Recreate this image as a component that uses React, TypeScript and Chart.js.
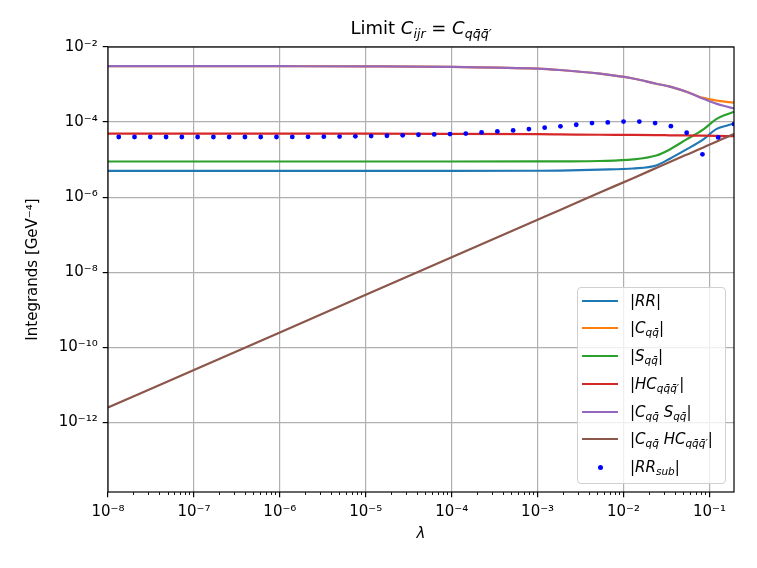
import React, { useEffect, useRef } from 'react';
import { Chart, registerables } from 'chart.js';

Chart.register(...registerables);

// lambda values of the smooth curves
const LINE_LAMBDA = [1e-8, 1e-7, 1e-6, 1e-5, 1e-4, 1e-3, 1.8e-3, 5.3e-3, 1.29e-2, 2.4e-2, 3.46e-2, 5.4e-2, 8.5e-2, 0.12, 0.158, 0.193];

const RR = [5.0e-6, 5.0e-6, 5.0e-6, 5.0e-6, 5.0e-6, 5.05e-6, 5.1e-6, 5.4e-6, 5.8e-6, 7.0e-6, 1.06e-5, 1.87e-5, 3.46e-5, 6.5e-5, 8.0e-5, 9.1e-5];
const C_QQ = [3.1e-3, 3.1e-3, 3.08e-3, 3.05e-3, 2.95e-3, 2.65e-3, 2.44e-3, 1.95e-3, 1.45e-3, 1.05e-3, 8.8e-4, 6.4e-4, 4.4e-4, 3.75e-4, 3.45e-4, 3.3e-4];
const S_QQ = [8.9e-6, 8.9e-6, 8.9e-6, 8.9e-6, 8.9e-6, 8.95e-6, 9.0e-6, 9.2e-6, 1.01e-5, 1.29e-5, 1.87e-5, 3.46e-5, 6.4e-5, 1.2e-4, 1.6e-4, 1.87e-4];
const HC_QQQ = [4.9e-5, 4.9e-5, 4.9e-5, 4.9e-5, 4.85e-5, 4.75e-5, 4.7e-5, 4.6e-5, 4.55e-5, 4.5e-5, 4.45e-5, 4.4e-5, 4.35e-5, 4.3e-5, 4.25e-5, 4.2e-5];
const CS_QQ = [3.1e-3, 3.1e-3, 3.08e-3, 3.05e-3, 2.95e-3, 2.65e-3, 2.44e-3, 1.95e-3, 1.45e-3, 1.05e-3, 8.8e-4, 6.4e-4, 4.2e-4, 3.1e-4, 2.6e-4, 2.3e-4];
const CHC_QQQ = [2.5e-12, 2.5e-11, 2.5e-10, 2.5e-9, 2.5e-8, 2.5e-7, 4.5e-7, 1.33e-6, 3.2e-6, 6.0e-6, 8.7e-6, 1.35e-5, 2.1e-5, 3.0e-5, 3.95e-5, 4.85e-5];

// lambda values of the |RR_sub| points
const SUB_LAMBDA = [
  1.334e-8, 2.035e-8, 3.106e-8, 4.74e-8, 7.233e-8, 1.104e-7, 1.685e-7, 2.571e-7, 3.924e-7, 5.988e-7,
  9.14e-7, 1.395e-6, 2.129e-6, 3.249e-6, 4.958e-6, 7.568e-6, 1.155e-5, 1.763e-5, 2.69e-5, 4.106e-5,
  6.266e-5, 9.563e-5, 1.459e-4, 2.228e-4, 3.4e-4, 5.188e-4, 7.918e-4, 1.208e-3, 1.844e-3, 2.815e-3,
  4.295e-3, 6.556e-3, 1.0e-2, 1.527e-2, 2.33e-2, 3.556e-2, 5.428e-2, 8.284e-2, 0.1264, 0.1929,
];
const RR_SUB = [
  4.0e-5, 4.0e-5, 4.0e-5, 4.0e-5, 4.0e-5, 4.0e-5, 4.0e-5, 4.0e-5, 4.0e-5, 4.0e-5,
  4.0e-5, 4.02e-5, 4.05e-5, 4.08e-5, 4.12e-5, 4.17e-5, 4.23e-5, 4.32e-5, 4.45e-5, 4.6e-5,
  4.7e-5, 4.8e-5, 4.95e-5, 5.3e-5, 5.65e-5, 6.0e-5, 6.5e-5, 7.1e-5, 7.7e-5, 8.5e-5,
  9.4e-5, 9.8e-5, 1.03e-4, 1.03e-4, 9.4e-5, 7.8e-5, 5.2e-5, 1.38e-5, 3.9e-5, 8.85e-5,
];

const X_TICKS = [1e-8, 1e-7, 1e-6, 1e-5, 1e-4, 1e-3, 1e-2, 1e-1];
const Y_TICKS = [1e-12, 1e-10, 1e-8, 1e-6, 1e-4, 1e-2];
const X_MIN = 1e-8;
const X_MAX = 0.193;
const Y_MIN = 1.4e-14;
const Y_MAX = 1e-2;

const FONT = "'DejaVu Sans', sans-serif";
const COLORS = ['#1f77b4', '#ff7f0e', '#2ca02c', '#d62728', '#9467bd', '#8c564b'];

const SUP: Record<string, string> = {
  '-': '\u207b', '0': '\u2070', '1': '\u00b9', '2': '\u00b2', '3': '\u00b3', '4': '\u2074',
  '5': '\u2075', '6': '\u2076', '7': '\u2077', '8': '\u2078', '9': '\u2079',
};

const powerLabel = (v: number): string => {
  const e = Math.round(Math.log10(v));
  return '10' + String(e).split('').map((c) => SUP[c]).join('');
};

// minor ticks 2..9 x each decade
const X_MINOR: number[] = [];
X_TICKS.forEach((d) => {
  for (let m = 2; m <= 9; m++) {
    if (m * d <= X_MAX) X_MINOR.push(m * d);
  }
});

const framePlugin = {
  id: 'frame',
  afterDatasetsDraw(chart: Chart) {
    const { ctx, chartArea: a } = chart;
    ctx.save();
    ctx.strokeStyle = '#000';
    ctx.lineWidth = 1.2;
    ctx.strokeRect(a.left, a.top, a.right - a.left, a.bottom - a.top);
    ctx.restore();
  },
};

const Sub: React.FC<{ children: React.ReactNode }> = ({ children }) => (
  <span style={{ fontSize: '0.7em', position: 'relative', top: '0.3em' }}>{children}</span>
);

const QQ = 'qq\u0304';
const QQQ = 'qq\u0304q\u0304\u2032';

const App: React.FC = () => {
  const canvasRef = useRef<HTMLCanvasElement>(null);

  useEffect(() => {
    if (!canvasRef.current) return;

    const line = (label: string, ys: number[], color: string, order: number) => ({
      label,
      data: LINE_LAMBDA.map((x, i) => ({ x, y: ys[i] })),
      borderColor: color,
      backgroundColor: color,
      borderWidth: 2.2,
      pointRadius: 0,
      cubicInterpolationMode: 'monotone' as const,
      xAxisID: 'x',
      yAxisID: 'y',
      order,
    });

    const chart = new Chart(canvasRef.current, {
      type: 'line',
      data: {
        datasets: [
          line('|RR|', RR, COLORS[0], 7),
          line('|C|', C_QQ, COLORS[1], 6),
          line('|S|', S_QQ, COLORS[2], 5),
          line('|HC|', HC_QQQ, COLORS[3], 4),
          line('|CS|', CS_QQ, COLORS[4], 3),
          line('|CHC|', CHC_QQQ, COLORS[5], 2),
          {
            label: '|RRsub|',
            data: SUB_LAMBDA.map((x, i) => ({ x, y: RR_SUB[i] })),
            showLine: false,
            pointRadius: 2.4,
            pointBorderWidth: 0,
            pointBackgroundColor: '#0000ff',
            borderColor: '#0000ff',
            xAxisID: 'x',
            yAxisID: 'y',
            order: 1,
          },
        ],
      },
      options: {
        responsive: false,
        animation: false,
        events: [],
        layout: { padding: { left: 0, right: 23, top: 47, bottom: 0 } },
        plugins: {
          legend: { display: false },
          tooltip: { enabled: false },
        },
        scales: {
          xMinor: {
            type: 'logarithmic',
            position: 'bottom',
            weight: -1,
            min: X_MIN,
            max: X_MAX,
            bounds: 'data',
            afterBuildTicks: (s: any) => {
              s.ticks = X_MINOR.map((v) => ({ value: v }));
            },
            afterFit: (s: any) => {
              s.height = 0;
            },
            ticks: { display: false },
            grid: { drawOnChartArea: false, tickLength: 3, tickColor: '#000', tickWidth: 0.9 },
            border: { display: false },
          },
          x: {
            type: 'logarithmic',
            position: 'bottom',
            min: X_MIN,
            max: X_MAX,
            bounds: 'data',
            afterBuildTicks: (s: any) => {
              s.ticks = X_TICKS.map((v) => ({ value: v }));
            },
            afterFit: (s: any) => {
              s.height = 76;
            },
            ticks: {
              autoSkip: false,
              maxRotation: 0,
              padding: 6,
              color: '#000',
              font: { family: FONT, size: 15 },
              callback: (v: any) => powerLabel(Number(v)),
            },
            grid: { color: '#b0b0b0', lineWidth: 1.2, tickLength: 5.3, tickColor: '#000', tickWidth: 1.2 },
            border: { display: false },
            title: {
              display: true,
              text: '\u03bb',
              color: '#000',
              padding: { top: 0, bottom: 25 },
              font: { family: FONT, size: 15, style: 'italic' },
            },
          },
          y: {
            type: 'logarithmic',
            position: 'left',
            min: Y_MIN,
            max: Y_MAX,
            bounds: 'data',
            afterBuildTicks: (s: any) => {
              s.ticks = Y_TICKS.map((v) => ({ value: v }));
            },
            afterFit: (s: any) => {
              s.width = 108;
            },
            ticks: {
              autoSkip: false,
              padding: 5,
              color: '#000',
              font: { family: FONT, size: 15 },
              callback: (v: any) => powerLabel(Number(v)),
            },
            grid: { color: '#b0b0b0', lineWidth: 1.2, tickLength: 5.3, tickColor: '#000', tickWidth: 1.2 },
            border: { display: false },
            title: {
              display: true,
              text: 'Integrands [GeV\u207b\u2074]',
              color: '#000',
              padding: { top: 24, bottom: 0 },
              font: { family: FONT, size: 15 },
            },
          },
        },
      },
      plugins: [framePlugin],
    });

    return () => {
      chart.destroy();
    };
  }, []);

  const legendRows: { color: string; dot?: boolean; label: React.ReactNode }[] = [
    { color: COLORS[0], label: <>|<i>RR</i>|</> },
    { color: COLORS[1], label: <>|<i>C</i><Sub><i>{QQ}</i></Sub>|</> },
    { color: COLORS[2], label: <>|<i>S</i><Sub><i>{QQ}</i></Sub>|</> },
    { color: COLORS[3], label: <>|<i>HC</i><Sub><i>{QQQ}</i></Sub>|</> },
    { color: COLORS[4], label: <>|<i>C</i><Sub><i>{QQ}</i></Sub><i> S</i><Sub><i>{QQ}</i></Sub>|</> },
    { color: COLORS[5], label: <>|<i>C</i><Sub><i>{QQ}</i></Sub><i> HC</i><Sub><i>{QQQ}</i></Sub>|</> },
    { color: '#0000ff', dot: true, label: <>|<i>RR</i><Sub><i>sub</i></Sub>|</> },
  ];

  return (
    <div style={{ position: 'absolute', left: 0, top: 0, width: 757, height: 568, background: '#fff', fontFamily: FONT }}>
      <canvas ref={canvasRef} width={757} height={568} style={{ display: 'block' }}></canvas>

      {/* Title */}
      <div
        style={{
          position: 'absolute', left: 108, width: 626, top: 17, textAlign: 'center',
          fontSize: 18, lineHeight: '22px', whiteSpace: 'nowrap', color: '#000',
        }}
      >
        Limit <i>C</i><Sub><i>ijr</i></Sub> = <i>C</i><Sub><i>{QQQ}</i></Sub>
      </div>

      {/* Legend */}
      <div
        style={{
          position: 'absolute', left: 577, top: 287, width: 149, height: 197, boxSizing: 'border-box',
          border: '1px solid #d0d0d0', borderRadius: 4, background: 'rgba(255,255,255,0.8)',
        }}
      ></div>
      {legendRows.map((r, i) => (
        <div
          key={i}
          style={{
            position: 'absolute', left: 582, top: Math.round(300.7 + 27.7 * i) - 11, height: 22,
            display: 'flex', alignItems: 'center', whiteSpace: 'nowrap', fontSize: 15, color: '#000',
          }}
        >
          <div style={{ width: 36, height: 22, position: 'relative' }}>
            {r.dot ? (
              <div style={{ position: 'absolute', left: 16, top: 9, width: 5, height: 5, borderRadius: '50%', background: r.color }}></div>
            ) : (
              <div style={{ position: 'absolute', left: 0, top: 10, width: 36, height: 2, background: r.color }}></div>
            )}
          </div>
          <span style={{ marginLeft: 12 }}>{r.label}</span>
        </div>
      ))}
    </div>
  );
};

export default App;
